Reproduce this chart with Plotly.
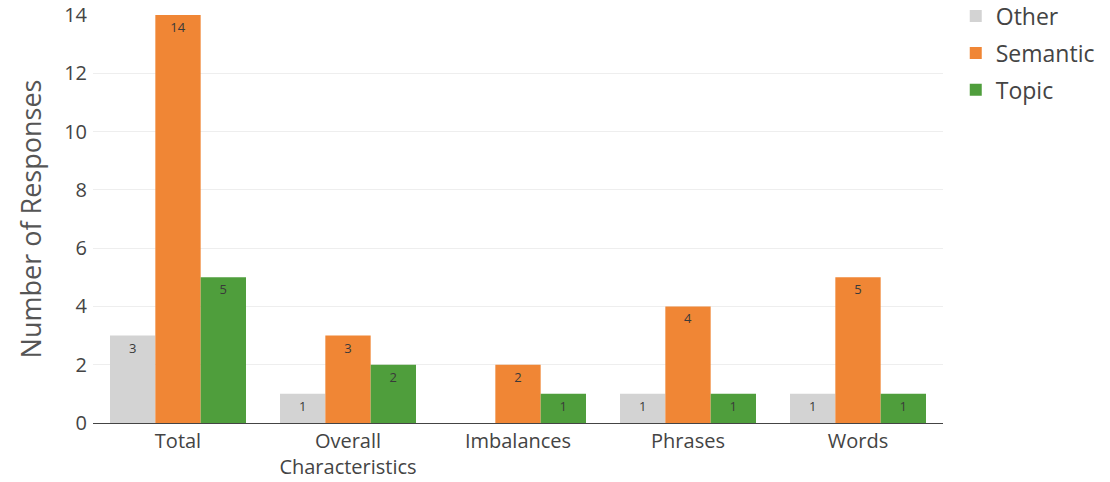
import plotly.graph_objects as go

categories = ["Total", "Overall<br>Characteristics", "Imbalances", "Phrases", "Words"]
other = [3, 1, 0, 1, 1]
semantic = [14, 3, 2, 4, 5]
topic = [5, 2, 1, 1, 1]

series = [
    ("Other", other, "#d3d3d3"),
    ("Semantic", semantic, "#f08635"),
    ("Topic", topic, "#4f9e3c"),
]

fig = go.Figure()
for name, vals, color in series:
    fig.add_trace(go.Bar(
        x=categories, y=vals, name=name, legendgroup=name,
        marker=dict(color=color, line=dict(width=0)),
        text=[str(v) if v else "" for v in vals],
        textposition="inside", insidetextanchor="end",
        textfont=dict(size=13, color="#3a3a3a", family="Open Sans"),
        textangle=0,
        cliponaxis=False,
    ))

fig.update_layout(
    width=1110, height=482,
    margin=dict(l=93, r=167, t=15, b=59, autoexpand=False),
    barmode="group", bargap=0.2, bargroupgap=0,
    plot_bgcolor="white", paper_bgcolor="white",
    font=dict(family="Open Sans", color="#444444"),
    uniformtext=dict(minsize=13, mode="show"),
    legend=dict(x=1.015, y=1.05, xanchor="left", yanchor="top",
                font=dict(size=23, color="#444444"), traceorder="grouped",
                tracegroupgap=4),
    xaxis=dict(tickfont=dict(size=20), showline=True, linecolor="#444444",
               linewidth=1, ticks="", showgrid=False, automargin=False),
    yaxis=dict(range=[0, 14], tickvals=[0, 2, 4, 6, 8, 10, 12, 14],
               tickfont=dict(size=20), gridcolor="#eeeeee", automargin=False,
               zeroline=True, zerolinecolor="#444444", zerolinewidth=1,
               ticks="outside", ticklen=1, tickcolor="rgba(0,0,0,0)",
               title=dict(text="Number of Responses", font=dict(size=27, color="#555555"),
                          standoff=14)),
)

fig.write_html("out.html")
